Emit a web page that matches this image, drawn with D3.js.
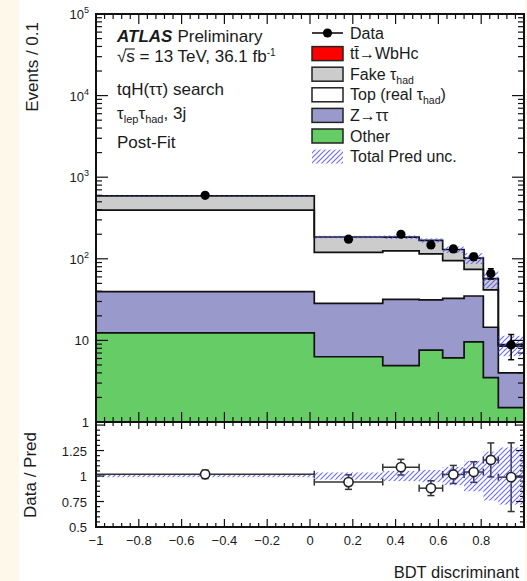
<!DOCTYPE html>
<html><head><meta charset="utf-8">
<script src="https://cdn.jsdelivr.net/npm/d3@7"></script>
<style>html,body{margin:0;padding:0;background:#fff}</style>
</head><body><svg id="chart" width="527" height="581"></svg>
<script>
// BDT discriminant bins and post-fit yields (Events / 0.1)
const binEdges  = [-1, 0.02, 0.34, 0.51, 0.62, 0.72, 0.81, 0.88, 1];
const other     = [12.4, 6.3, 4.9, 7.6, 6.1, 9.6, 3.5, 1.5];
const ztautau   = [27.1, 22.2, 27.0, 23.7, 26.7, 25.4, 11.0, 2.5];
const topReal   = [356.5, 91.5, 93.1, 83.7, 62.2, 39.0, 27.0, 4.5];
const fakeTau   = [194, 65, 59, 53, 35, 28, 15.5, 0.4];
const signalHc  = [0, 0, 0, 0, 0, 0, 0, 0];
const dataYield = [600, 174, 200, 148, 132, 106, 66, 8.8];
const dataErr   = [24.5, 13.2, 14.1, 12.2, 11.5, 10.3, 9.5, 3.0];
const predRelUnc = [0.012, 0.035, 0.05, 0.06, 0.09, 0.15, 0.24, 0.28];

const xTickValues = [-1, -0.8, -0.6, -0.4, -0.2, 0, 0.2, 0.4, 0.6, 0.8];
const mainTickLabels = [{v:1e5, b:"10", e:"5"}, {v:1e4, b:"10", e:"4"}, {v:1e3, b:"10", e:"3"},
                        {v:1e2, b:"10", e:"2"}, {v:10, b:"10", e:""}, {v:1, b:"1", e:""}];
const ratioTickLabels = ["1.25", "1", "0.75", "0.5"];
const ratioTickValues = [1.25, 1, 0.75, 0.5];

const FONT = "'Liberation Sans', Arial, Helvetica, sans-serif";
const W = 527, H = 581;
const svg = d3.select("#chart");
svg.append("rect").attr("width", W).attr("height", H).attr("fill", "#fff");

const xL = 96, xR = 524, mainTop = 14, mainBot = 422, ratBot = 527;
const x = d3.scaleLinear().domain([-1, 1]).range([xL, xR]);
const y = d3.scaleLog().domain([1, 1e5]).range([mainBot, mainTop]);
const yr = d3.scaleLinear().domain([0.5, 1.53]).range([ratBot, mainBot]);

const defs = svg.append("defs");
defs.append("clipPath").attr("id", "clipMain").append("rect")
  .attr("x", xL).attr("y", mainTop).attr("width", xR - xL).attr("height", mainBot - mainTop);
defs.append("clipPath").attr("id", "clipRatio").append("rect")
  .attr("x", xL).attr("y", mainBot).attr("width", xR - xL).attr("height", ratBot - mainBot);
const pat = defs.append("pattern").attr("id", "hatch").attr("patternUnits", "userSpaceOnUse")
  .attr("width", 5).attr("height", 5);
pat.append("path").attr("d", "M0,5 L5,0 M-1,1 L1,-1 M4,6 L6,4")
  .attr("stroke", "#4a4aff").attr("stroke-width", 1.2).attr("stroke-opacity", 0.8);

// ---- stacked backgrounds ----
const bins = binEdges.slice(0, -1).map((lo, i) => ({
  lo, hi: binEdges[i + 1], other: other[i], ztt: ztautau[i], top: topReal[i], fake: fakeTau[i], sig: signalHc[i]
}));
const keys = ["other", "ztt", "top", "fake", "sig"];
const colors = {other: "#66cc66", ztt: "#9999cc", top: "#ffffff", fake: "#cccccc", sig: "#ff0000"};
const stacked = d3.stack().keys(keys)(bins);
const totals = bins.map(b => b.other + b.ztt + b.top + b.fake + b.sig);

const gMain = svg.append("g").attr("clip-path", "url(#clipMain)");
stacked.forEach(layer => {
  gMain.append("g").attr("shape-rendering", "crispEdges")
    .selectAll("rect").data(layer.filter(d => d[1] > d[0])).join("rect")
    .attr("x", d => x(d.data.lo)).attr("width", d => x(d.data.hi) - x(d.data.lo) + 0.6)
    .attr("y", d => y(Math.max(d[1], 1)))
    .attr("height", d => y(Math.max(d[0], 1)) - y(Math.max(d[1], 1)))
    .attr("fill", colors[layer.key]);
});
const stepLine = d3.line().curve(d3.curveStepAfter).x(p => x(p[0])).y(p => y(Math.max(p[1], 1)));
stacked.forEach(layer => {
  if (layer.key === "sig") return;
  const pts = layer.map(d => [d.data.lo, d[1]]);
  pts.push([layer[layer.length - 1].data.hi, layer[layer.length - 1][1]]);
  gMain.append("path").attr("d", stepLine(pts)).attr("fill", "none")
    .attr("stroke", "#111").attr("stroke-width", 1.7);
});
// total prediction uncertainty
gMain.append("g").selectAll("rect").data(bins).join("rect")
  .attr("x", d => x(d.lo)).attr("width", d => x(d.hi) - x(d.lo))
  .attr("y", (d, i) => y(totals[i] * (1 + predRelUnc[i])))
  .attr("height", (d, i) => y(totals[i] * (1 - predRelUnc[i])) - y(totals[i] * (1 + predRelUnc[i])))
  .attr("fill", "url(#hatch)");
// data
const gData = gMain.append("g");
bins.forEach((b, i) => {
  const cx = x((b.lo + b.hi) / 2);
  gData.append("line").attr("x1", cx).attr("x2", cx)
    .attr("y1", y(dataYield[i] + dataErr[i])).attr("y2", y(dataYield[i] - dataErr[i]))
    .attr("stroke", "#000").attr("stroke-width", 1.5);
  [dataYield[i] + dataErr[i], dataYield[i] - dataErr[i]].forEach(v => {
    gData.append("line").attr("x1", cx - 3).attr("x2", cx + 3).attr("y1", y(v)).attr("y2", y(v))
      .attr("stroke", "#000").attr("stroke-width", 1.5);
  });
  gData.append("circle").attr("cx", cx).attr("cy", y(dataYield[i])).attr("r", 4.6).attr("fill", "#000");
});

// ---- ratio panel ----
const gRat = svg.append("g").attr("clip-path", "url(#clipRatio)");
const ratio = bins.map((b, i) => dataYield[i] / totals[i]);
const ratioErr = bins.map((b, i) => dataErr[i] / totals[i]);
bins.forEach((b, i) => {
  const cx = x((b.lo + b.hi) / 2), cy = yr(ratio[i]);
  const col = "#333";
  gRat.append("line").attr("x1", x(b.lo)).attr("x2", x(b.hi)).attr("y1", cy).attr("y2", cy)
    .attr("stroke", col).attr("stroke-width", 1.5);
  [b.lo, b.hi].forEach(e => gRat.append("line").attr("x1", x(e)).attr("x2", x(e))
    .attr("y1", cy - 3.5).attr("y2", cy + 3.5).attr("stroke", col).attr("stroke-width", 1.5));
  gRat.append("line").attr("x1", cx).attr("x2", cx)
    .attr("y1", yr(ratio[i] + ratioErr[i])).attr("y2", yr(ratio[i] - ratioErr[i]))
    .attr("stroke", col).attr("stroke-width", 1.5);
  [ratio[i] + ratioErr[i], ratio[i] - ratioErr[i]].forEach(v => gRat.append("line")
    .attr("x1", cx - 3.5).attr("x2", cx + 3.5).attr("y1", yr(v)).attr("y2", yr(v))
    .attr("stroke", col).attr("stroke-width", 1.5));
});
gRat.append("g").selectAll("rect").data(bins).join("rect")
  .attr("x", d => x(d.lo)).attr("width", d => x(d.hi) - x(d.lo))
  .attr("y", (d, i) => yr(1 + predRelUnc[i]))
  .attr("height", (d, i) => yr(1 - predRelUnc[i]) - yr(1 + predRelUnc[i]))
  .attr("fill", "url(#hatch)");
bins.forEach((b, i) => {
  gRat.append("circle").attr("cx", x((b.lo + b.hi) / 2)).attr("cy", yr(ratio[i])).attr("r", 4.6)
    .attr("fill", "#fff").attr("stroke", "#222").attr("stroke-width", 1.6);
});

// ---- ticks ----
const gT = svg.append("g").attr("stroke", "#111").attr("stroke-width", 1.2);
function tick(x1, y1, x2, y2) { gT.append("line").attr("x1", x1).attr("y1", y1).attr("x2", x2).attr("y2", y2); }
const xMajor = d3.range(-1, 1.0001, 0.2), xMinor = d3.range(-1, 1.0001, 0.04);
xMinor.forEach(v => {
  const isMaj = xMajor.some(m => Math.abs(m - v) < 1e-6);
  const px = x(v);
  tick(px, mainTop, px, mainTop + (isMaj ? 10 : 5));
  tick(px, mainBot, px, mainBot - (isMaj ? 10 : 5));
  tick(px, mainBot, px, mainBot + (isMaj ? 7 : 4));
  tick(px, ratBot, px, ratBot - (isMaj ? 8 : 4));
});
for (let d = 0; d < 5; d++) {
  for (let m = 1; m <= 9; m++) {
    const v = m * Math.pow(10, d), py = y(v), len = m === 1 ? 12 : 6;
    tick(xL, py, xL + len, py);
    tick(xR, py, xR - len, py);
  }
}
tick(xL, y(1e5), xL + 12, y(1e5)); tick(xR, y(1e5), xR - 12, y(1e5));
d3.range(0.5, 1.5001, 0.05).forEach(v => {
  const isMaj = [0.5, 0.75, 1, 1.25, 1.5].some(m => Math.abs(m - v) < 1e-6);
  const py = yr(v), len = isMaj ? 8 : 4;
  tick(xL, py, xL + len, py);
  tick(xR, py, xR - len, py);
});

// ---- frames ----
svg.append("rect").attr("x", xL).attr("y", mainTop).attr("width", xR - xL).attr("height", mainBot - mainTop)
  .attr("fill", "none").attr("stroke", "#111").attr("stroke-width", 2);
svg.append("rect").attr("x", xL).attr("y", mainBot).attr("width", xR - xL).attr("height", ratBot - mainBot)
  .attr("fill", "none").attr("stroke", "#111").attr("stroke-width", 2);

// page margins
svg.append("rect").attr("x", 0).attr("y", 0).attr("width", 19).attr("height", H).attr("fill", "#fdf8e9");
svg.append("rect").attr("x", 525).attr("y", 0).attr("width", 2).attr("height", H).attr("fill", "#fdf8e9");

// ---- axis labels ----
const txt = svg.append("g").attr("font-family", FONT).attr("fill", "#1a1a1a");
const fmt = d3.format(".1~f");
xTickValues.forEach(v => {
  txt.append("text").attr("x", x(v)).attr("y", 545).attr("text-anchor", "middle")
    .attr("font-size", 13).text(fmt(v));
});
mainTickLabels.forEach(t => {
  const el = txt.append("text").attr("x", 89).attr("y", y(t.v) + 5).attr("text-anchor", "end").attr("font-size", 13);
  el.append("tspan").text(t.b);
  if (t.e) el.append("tspan").attr("dy", -6).attr("font-size", 9).text(t.e);
});
ratioTickValues.forEach((v, i) => {
  txt.append("text").attr("x", 87).attr("y", yr(v) + 5).attr("text-anchor", "end")
    .attr("font-size", 13).text(ratioTickLabels[i]);
});
txt.append("text").attr("transform", "translate(38,22) rotate(-90)").attr("text-anchor", "end")
  .attr("font-size", 17).text("Events / 0.1");
txt.append("text").attr("transform", "translate(36,475) rotate(-90)").attr("text-anchor", "middle")
  .attr("font-size", 17).text("Data / Pred");
txt.append("text").attr("x", 519).attr("y", 578).attr("text-anchor", "end")
  .attr("font-size", 16.5).text("BDT discriminant");

// ---- plot annotations ----
const tx = 117;
const atl = txt.append("text").attr("x", tx).attr("y", 42).attr("font-size", 17);
atl.append("tspan").attr("font-weight", "bold").attr("font-style", "italic").text("ATLAS");
atl.append("tspan").attr("dx", 5).text("Preliminary");
const sq = txt.append("text").attr("x", tx).attr("y", 62).attr("font-size", 17);
sq.append("tspan").text("\u221As = 13 TeV, 36.1 fb");
sq.append("tspan").attr("dy", -6).attr("font-size", 10).text("-1");
{
  const w0 = sq.node().getSubStringLength(0, 1), w1 = sq.node().getSubStringLength(1, 1);
  txt.append("line").attr("x1", tx + w0 - 1).attr("x2", tx + w0 + w1).attr("y1", 49).attr("y2", 49)
    .attr("stroke", "#1a1a1a").attr("stroke-width", 1.1);
}
txt.append("text").attr("x", tx).attr("y", 95).attr("font-size", 17).text("tqH(\u03C4\u03C4) search");
const tl = txt.append("text").attr("x", tx).attr("y", 119).attr("font-size", 17);
tl.append("tspan").text("\u03C4");
tl.append("tspan").attr("dy", 4).attr("font-size", 11).text("lep");
tl.append("tspan").attr("dy", -4).text("\u03C4");
tl.append("tspan").attr("dy", 4).attr("font-size", 11).text("had");
tl.append("tspan").attr("dy", -4).text(", 3j");
txt.append("text").attr("x", tx).attr("y", 148).attr("font-size", 17).text("Post-Fit");

// ---- legend ----
const lg = svg.append("g").attr("font-family", FONT).attr("fill", "#1a1a1a");
const lx = 312, lw = 31, lh = 14, ltx = 350, row = 20.6, ly0 = 33;
lg.append("line").attr("x1", lx).attr("x2", lx + lw).attr("y1", ly0).attr("y2", ly0)
  .attr("stroke", "#000").attr("stroke-width", 1.5);
lg.append("circle").attr("cx", lx + lw / 2).attr("cy", ly0).attr("r", 4.6).attr("fill", "#000");
lg.append("text").attr("x", ltx).attr("y", ly0 + 5.5).attr("font-size", 16).text("Data");
const legendItems = [
  {fill: colors.sig, parts: [["t", 0], ["t\u0304", 0], ["\u2192WbHc", 0]]},
  {fill: colors.fake, parts: [["Fake \u03C4", 0], ["had", 1]]},
  {fill: colors.top, parts: [["Top (real \u03C4", 0], ["had", 1], [")", 0]]},
  {fill: colors.ztt, parts: [["Z\u2192\u03C4\u03C4", 0]]},
  {fill: colors.other, parts: [["Other", 0]]},
  {fill: "url(#hatch)", parts: [["Total Pred unc.", 0]], noBorder: true}
];
legendItems.forEach((it, k) => {
  const cy = ly0 + row * (k + 1);
  lg.append("rect").attr("x", lx).attr("y", cy - lh / 2).attr("width", lw).attr("height", lh)
    .attr("fill", it.fill).attr("stroke", it.noBorder ? "none" : "#222").attr("stroke-width", 1.5);
  const t = lg.append("text").attr("x", ltx).attr("y", cy + 5.5).attr("font-size", 16);
  let sub = 0;
  it.parts.forEach(([s, isSub]) => {
    const sp = t.append("tspan").text(s);
    if (isSub && !sub) { sp.attr("dy", 4).attr("font-size", 10.5); sub = 1; }
    else if (!isSub && sub) { sp.attr("dy", -4); sub = 0; }
  });
});
</script></body></html>
